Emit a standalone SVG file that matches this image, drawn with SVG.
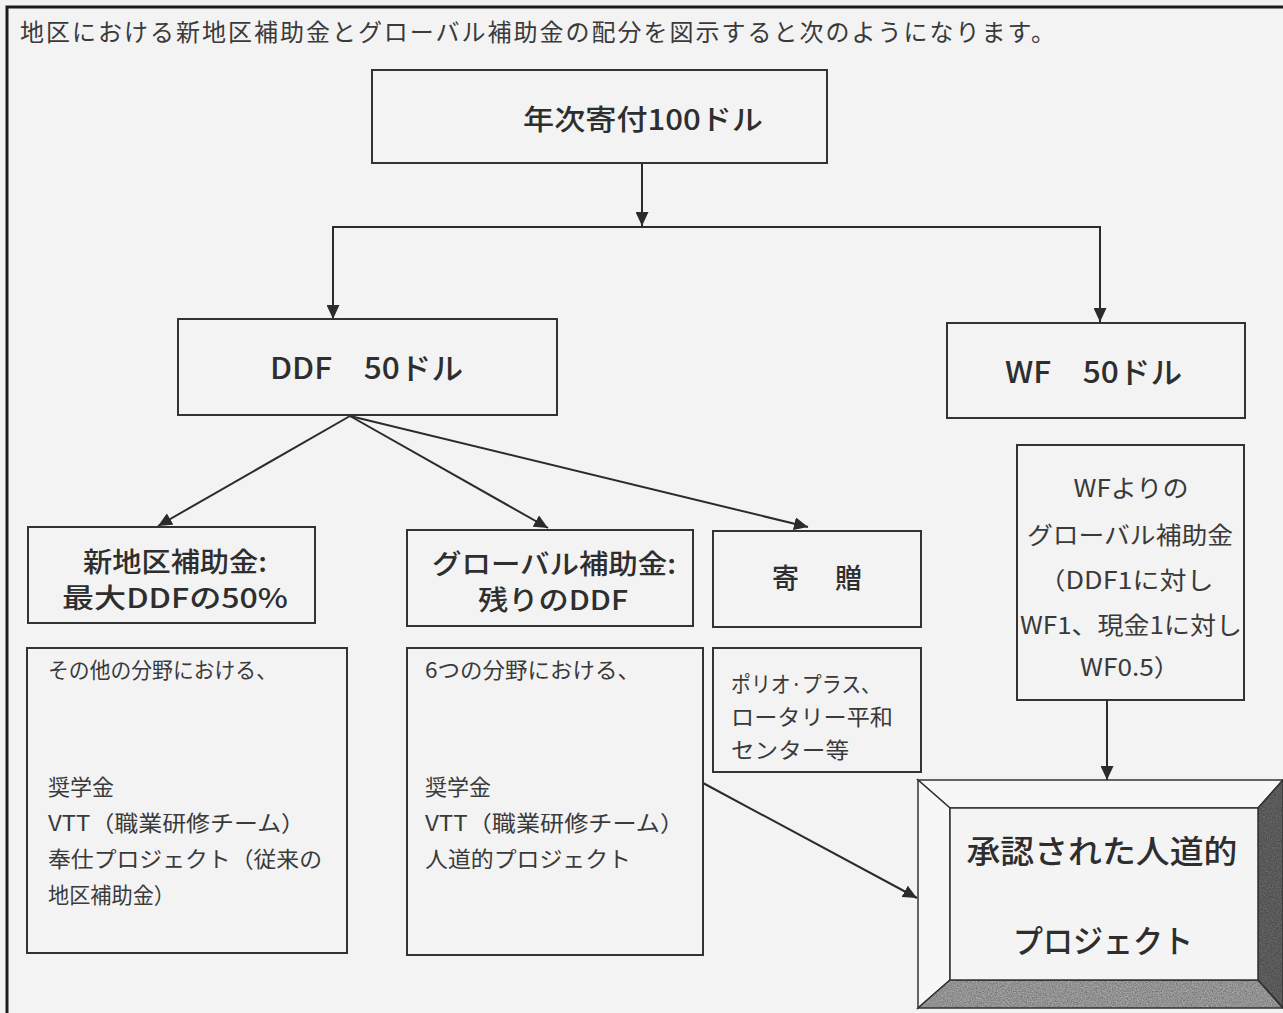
<svg xmlns="http://www.w3.org/2000/svg" width="1283" height="1013" viewBox="0 0 1283 1013">
  <defs>
    <marker id="arr" markerUnits="userSpaceOnUse" markerWidth="16" markerHeight="13" refX="14" refY="6.5" orient="auto">
      <path d="M0,0 L14,6.5 L0,13 z" fill="#2b2b2b"/>
    </marker>
    <filter id="grain" x="0%" y="0%" width="100%" height="100%" color-interpolation-filters="sRGB">
      <feTurbulence type="fractalNoise" baseFrequency="0.8" numOctaves="2" seed="4" result="n"/>
      <feColorMatrix in="n" type="matrix" values="0.33 0.33 0.33 0 0  0.33 0.33 0.33 0 0  0.33 0.33 0.33 0 0  0 0 0 0 1" result="g"/>
      <feComposite in="SourceGraphic" in2="g" operator="arithmetic" k1="1.1" k2="0.45" k3="0" k4="0" result="m"/>
      <feComposite in="m" in2="SourceGraphic" operator="in"/>
    </filter>
    <style>
      .box { fill: none; stroke: #333; stroke-width: 2; }
      .conn { fill: none; stroke: #2b2b2b; stroke-width: 2; }
      .t { font-family: "Noto Sans CJK JP", "Noto Sans", sans-serif; fill: #2e2e2e; }
      .title { font-size: 24px; fill: #3a3a3a; }
      .hd { font-size: 27px; font-weight: 500; }
      .big { font-size: 30px; font-weight: 500; }
      .body { font-size: 22px; fill: #3a3a3a; }
      .wfb { font-size: 24px; fill: #3a3a3a; }
      .mid { text-anchor: middle; }
    </style>
  </defs>
  <rect width="1283" height="1013" fill="#f3f3f3"/>
  <!-- outer frame -->
  <path d="M7,1013 L7,7 L1283,7" fill="none" stroke="#1e1e1e" stroke-width="3"/>

  <text class="t title" x="20" y="41" textLength="1035" lengthAdjust="spacing">地区における新地区補助金とグローバル補助金の配分を図示すると次のようになります。</text>

  <g id="connectors">
    <line class="conn" x1="642" y1="163" x2="642" y2="226" marker-end="url(#arr)"/>
    <polyline class="conn" points="333,318 333,227 1100,227 1100,322" />
    <line class="conn" x1="333" y1="300" x2="333" y2="319" marker-end="url(#arr)"/>
    <line class="conn" x1="1100" y1="300" x2="1100" y2="322" marker-end="url(#arr)"/>
    <line class="conn" x1="350" y1="416" x2="158" y2="526" marker-end="url(#arr)"/>
    <line class="conn" x1="350" y1="416" x2="548" y2="528" marker-end="url(#arr)"/>
    <line class="conn" x1="350" y1="416" x2="808" y2="527" marker-end="url(#arr)"/>
    <line class="conn" x1="1107" y1="700" x2="1107" y2="780" marker-end="url(#arr)"/>
    <line class="conn" x1="703" y1="783" x2="917" y2="898" marker-end="url(#arr)"/>
  </g>

  <g id="annual">
    <rect class="box" x="372" y="70" width="455" height="93"/>
    <text class="t big" x="523" y="130" style="font-size:28px" textLength="240" lengthAdjust="spacingAndGlyphs">年次寄付100ドル</text>
  </g>

  <g id="ddf">
    <rect class="box" x="178" y="319" width="379" height="96"/>
    <text class="t big" x="270" y="379" textLength="193" lengthAdjust="spacingAndGlyphs">DDF　50ドル</text>
  </g>

  <g id="wf">
    <rect class="box" x="947" y="323" width="298" height="95"/>
    <text class="t big" x="1005" y="383" textLength="177" lengthAdjust="spacingAndGlyphs">WF　50ドル</text>
  </g>

  <g id="new-district">
    <rect class="box" x="28" y="527" width="287" height="96"/>
    <text class="t hd" x="83" y="572" textLength="184" lengthAdjust="spacingAndGlyphs">新地区補助金:</text>
    <text class="t hd" x="62" y="608" textLength="226" lengthAdjust="spacingAndGlyphs">最大DDFの50%</text>
  </g>

  <g id="global">
    <rect class="box" x="407" y="530" width="286" height="96"/>
    <text class="t hd" x="432" y="574" textLength="244" lengthAdjust="spacingAndGlyphs">グローバル補助金:</text>
    <text class="t hd" x="478" y="610" textLength="150" lengthAdjust="spacingAndGlyphs">残りのDDF</text>
  </g>

  <g id="gift">
    <rect class="box" x="713" y="531" width="208" height="96"/>
    <text class="t hd" x="772" y="588" textLength="90" lengthAdjust="spacing">寄　贈</text>
  </g>

  <g id="new-district-detail">
    <rect class="box" x="27" y="648" width="320" height="305"/>
    <text class="t body" x="48" y="678" textLength="229" lengthAdjust="spacingAndGlyphs">その他の分野における、</text>
    <text class="t body" x="48" y="795">奨学金</text>
    <text class="t body" x="48" y="831" textLength="257" lengthAdjust="spacingAndGlyphs">VTT（職業研修チーム）</text>
    <text class="t body" x="48" y="867" textLength="274" lengthAdjust="spacingAndGlyphs">奉仕プロジェクト（従来の</text>
    <text class="t body" x="48" y="903" textLength="127" lengthAdjust="spacingAndGlyphs">地区補助金）</text>
  </g>

  <g id="global-detail">
    <rect class="box" x="407" y="648" width="296" height="307"/>
    <text class="t body" x="425" y="678" textLength="215" lengthAdjust="spacingAndGlyphs">6つの分野における、</text>
    <text class="t body" x="425" y="795">奨学金</text>
    <text class="t body" x="425" y="831" textLength="259" lengthAdjust="spacingAndGlyphs">VTT（職業研修チーム）</text>
    <text class="t body" x="425" y="867" textLength="206" lengthAdjust="spacingAndGlyphs">人道的プロジェクト</text>
  </g>

  <g id="gift-detail">
    <rect class="box" x="713" y="648" width="208" height="124"/>
    <text class="t body" x="731" y="692" textLength="150" lengthAdjust="spacingAndGlyphs">ポリオ·プラス、</text>
    <text class="t body" x="731" y="725" textLength="162" lengthAdjust="spacingAndGlyphs">ロータリー平和</text>
    <text class="t body" x="731" y="758" textLength="118" lengthAdjust="spacingAndGlyphs">センター等</text>
  </g>

  <g id="wf-detail">
    <rect class="box" x="1017" y="445" width="227" height="255"/>
    <text class="t wfb mid" x="1131" y="497" textLength="115" lengthAdjust="spacingAndGlyphs">WFよりの</text>
    <text class="t wfb mid" x="1130" y="544" textLength="206" lengthAdjust="spacingAndGlyphs">グローバル補助金</text>
    <text class="t wfb mid" x="1126" y="589" textLength="175" lengthAdjust="spacingAndGlyphs">（DDF1に対し</text>
    <text class="t wfb mid" x="1131" y="634" textLength="222" lengthAdjust="spacingAndGlyphs">WF1、現金1に対し</text>
    <text class="t wfb mid" x="1130" y="676" textLength="100" lengthAdjust="spacingAndGlyphs">WF0.5）</text>
  </g>

  <g id="approved">
    <polygon points="918,780 1283,780 1258,808 950,808" fill="#f7f7f7" stroke="#333" stroke-width="1.5"/>
    <polygon points="918,780 950,808 950,980 918,1008" fill="#f7f7f7" stroke="#333" stroke-width="1.5"/>
    <polygon points="1283,780 1283,1008 1258,980 1258,808" fill="#5a5a5a" filter="url(#grain)"/>
    <polygon points="918,1008 950,980 1258,980 1283,1008" fill="#929292" filter="url(#grain)"/>
    <polygon points="1283,780 1283,1008 1258,980 1258,808" fill="none" stroke="#333" stroke-width="1.5"/>
    <polygon points="918,1008 950,980 1258,980 1283,1008" fill="none" stroke="#333" stroke-width="1.5"/>
    <rect x="950" y="808" width="308" height="172" fill="#f4f4f4" stroke="#333" stroke-width="1.5"/>
    <text class="t hd mid" x="1102" y="863" style="font-size:32px" textLength="271" lengthAdjust="spacingAndGlyphs">承認された人道的</text>
    <text class="t hd mid" x="1103" y="953" style="font-size:32px" textLength="180" lengthAdjust="spacingAndGlyphs">プロジェクト</text>
  </g>
</svg>
